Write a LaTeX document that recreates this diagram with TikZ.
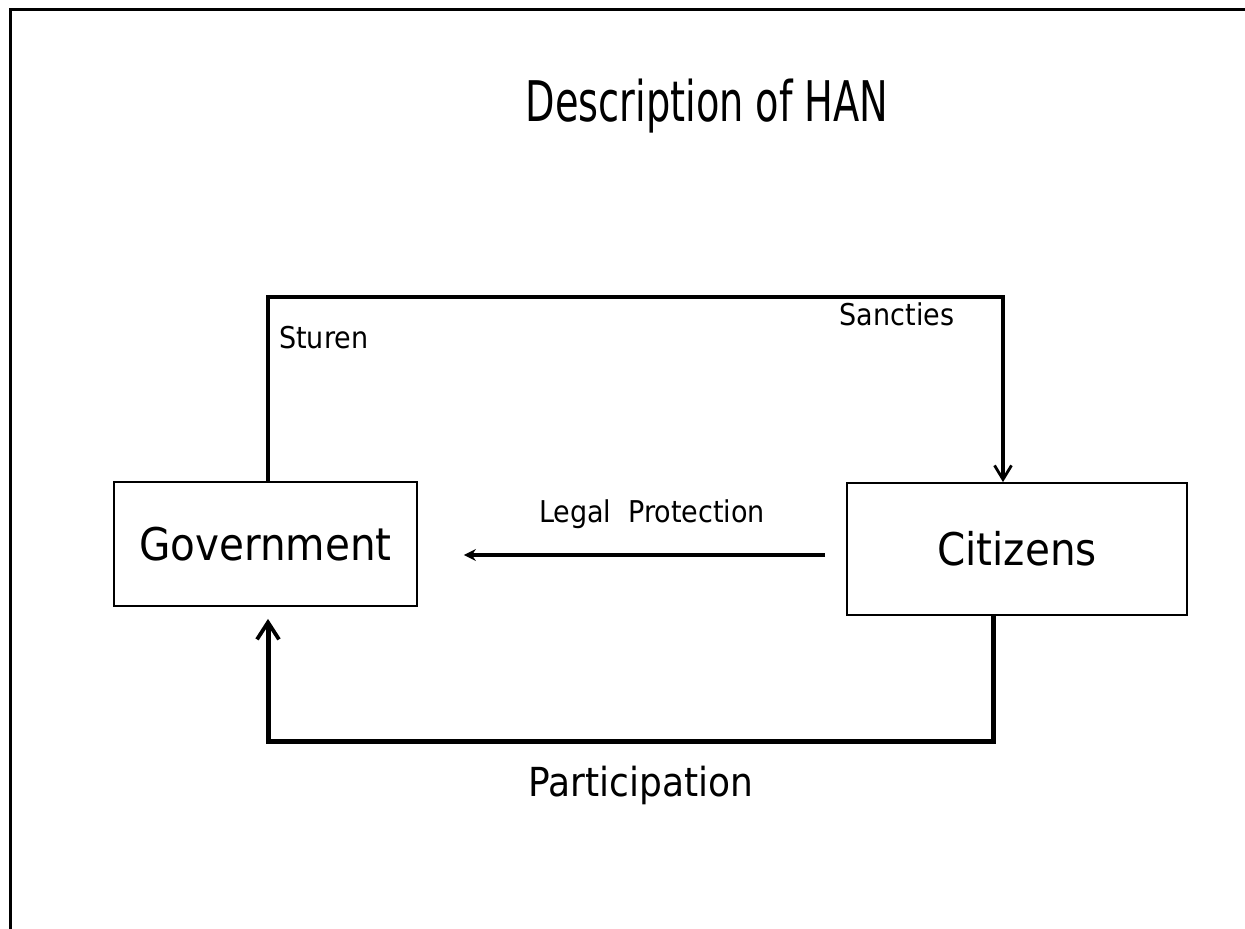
\documentclass[tikz,border=0pt]{standalone}
\usepackage{fontspec}
\setmainfont{DejaVu Sans Condensed}
\usepackage{tikz}
\usetikzlibrary{arrows.meta}

\begin{document}
\begin{tikzpicture}[x=1pt,y=-1pt,
		box/.style={draw,line width=1.8pt,minimum width=303pt,minimum height=124pt,
			inner sep=0pt,font=\fontsize{45}{54}\selectfont},
		lbl/.style={inner sep=0pt,font=\fontsize{30}{36}\selectfont},
		link/.style={line width=3.2pt},
		feed/.style={line width=5pt}]
		\useasboundingbox (0,0) rectangle (1245,929);
		\fill[white] (0,0) rectangle (1245,929);
		\draw[line width=3pt] (1245,9) -- (10,9) -- (10,929);
	
		\node[inner sep=0pt,font=\fontsize{56}{66}\selectfont] (title) at (707,106)
		{\scalebox{0.76}[1]{Description of HAN}};
	
		\node[box] (gov) at (265.5,544) {Government};
		\node[box,minimum width=340pt,minimum height=132pt] (cit) at (1017,549)
		{Citizens};
	
		\coordinate (top) at (268,297);
		\coordinate (low) at (993,741);
	
		\draw[link,-{Straight Barb[length=14pt,width=17pt,line width=2.8pt]}]
		(gov.north -| top) |- (top -| 1003,0) -- (cit.north -| 1003,0);
		\node[lbl,anchor=west] (sturen) at (279,338) {Sturen};
		\node[lbl] (sancties) at (897,314) {Sancties};
	
		\draw[link,-{Stealth[length=12pt,width=12pt]},shorten <=21pt,shorten >=46pt]
		(cit.west |- 0,555) -- (gov.east |- 0,555);
		\node[lbl] (legal) at (652,514) {Legal\ \ Protection};
	
		\draw[feed,-{Straight Barb[length=17pt,width=22pt,line width=3.8pt]},shorten >=12pt]
		(cit.south -| low) |- (low -| top) -- (gov.south -| top);
		\node[inner sep=0pt,font=\fontsize{40}{48}\selectfont] (part) at (641,785)
		{Participation};
	\end{tikzpicture}
\end{document}
